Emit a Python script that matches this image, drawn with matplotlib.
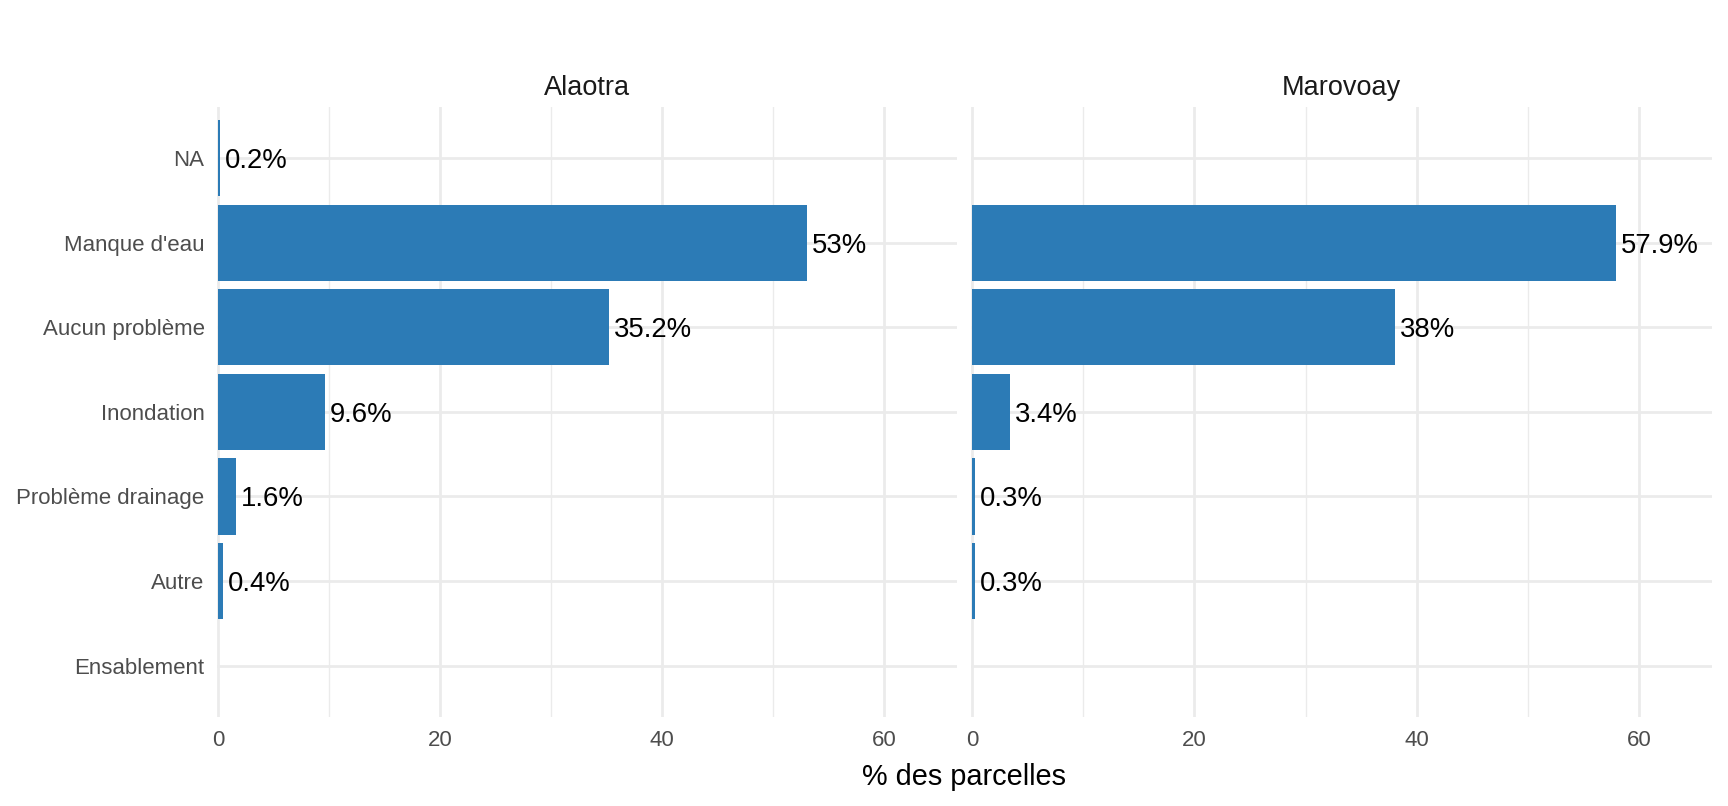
import matplotlib.pyplot as plt
import numpy as np

plt.rcParams['font.family'] = ['Liberation Sans', 'DejaVu Sans']

categories = ['NA', "Manque d'eau", 'Aucun problème', 'Inondation',
              'Problème drainage', 'Autre', 'Ensablement']
regions = ['Alaotra', 'Marovoay']
# None = no bar / no label
alaotra = [0.2, 53, 35.2, 9.6, 1.6, 0.4, None]
marovoay = [None, 57.9, 38, 3.4, 0.3, 0.3, None]
labels_alaotra = ['0.2%', '53%', '35.2%', '9.6%', '1.6%', '0.4%', None]
labels_marovoay = [None, '57.9%', '38%', '3.4%', '0.3%', '0.3%', None]

bar_col = '#2C7BB6'
grid_col = '#EBEBEB'

fig = plt.figure(figsize=(17.28, 8.06), dpi=100)
ax1 = fig.add_axes([0.1256, 0.111, 0.428, 0.756])
ax2 = fig.add_axes([0.5619, 0.111, 0.4286, 0.756])

ypos = np.arange(len(categories))[::-1]

for ax, vals, labs, name in zip([ax1, ax2], [alaotra, marovoay],
                                [labels_alaotra, labels_marovoay], regions):
    for y, v, lab in zip(ypos, vals, labs):
        if v is None:
            continue
        ax.barh(y, v, height=0.9, color=bar_col, zorder=2)
        ax.annotate(lab, (v, y), xytext=(3.5, 0), textcoords='offset points',
                    ha='left', va='center_baseline', fontsize=19.8, color='black')
    ax.set_xlim(-0.1, 66.5)
    ax.set_ylim(-0.6, len(categories) - 0.4)
    ax.set_xticks([0, 20, 40, 60])
    ax.set_xticks([10, 30, 50], minor=True)
    ax.set_yticks(ypos)
    ax.grid(True, which='major', color=grid_col, linewidth=2.0, zorder=0)
    ax.grid(True, which='minor', axis='x', color=grid_col, linewidth=1.0, zorder=0)
    ax.set_axisbelow(True)
    for s in ax.spines.values():
        s.set_visible(False)
    ax.tick_params(which='both', length=0, labelsize=16, labelcolor='#4D4D4D')
    ax.tick_params(axis='x', pad=10)
    ax.tick_params(axis='y', pad=9)
    ax.set_title(name, fontsize=19.5, color='#1A1A1A', pad=9)

ax1.set_yticklabels(categories)
ax2.set_yticklabels([])

fig.text(0.558, 0.036, '% des parcelles', ha='center', va='center',
         fontsize=20.8, color='black')

fig.savefig('out.png', dpi=100)
